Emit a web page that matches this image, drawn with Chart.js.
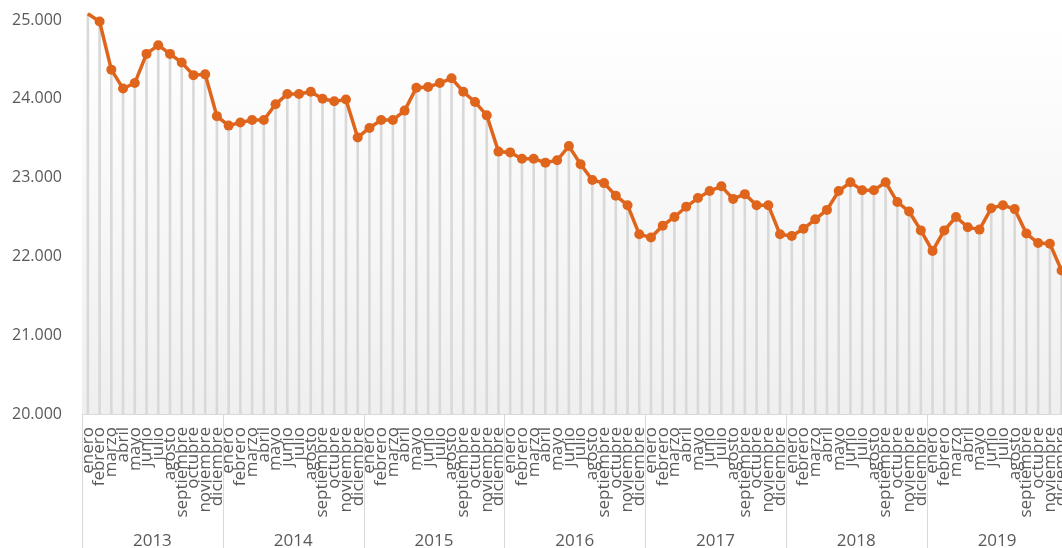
<!DOCTYPE html>
<html>
<head>
<meta charset="utf-8">
<script src="https://cdn.jsdelivr.net/npm/chart.js@4"></script>
<style>
  html, body { margin: 0; padding: 0; background: #fff; overflow: hidden; }
  #wrap { width: 1095px; height: 548px; position: relative; }
</style>
</head>
<body>
<div id="wrap"><canvas id="chart"></canvas></div>
<script>
// chart data
const years = ['2013', '2014', '2015', '2016', '2017', '2018', '2019'];
const months = ['enero', 'febrero', 'marzo', 'abril', 'mayo', 'junio', 'julio',
    'agosto', 'septiembre', 'octubre', 'noviembre', 'diciembre'];
const values2013 = [25080, 24980, 24370, 24130, 24200, 24570, 24680, 24570, 24460, 24300, 24310, 23780];
const values2014 = [23660, 23700, 23730, 23730, 23930, 24060, 24060, 24090, 24000, 23970, 23990, 23510];
const values2015 = [23630, 23730, 23730, 23850, 24140, 24150, 24200, 24260, 24090, 23960, 23790, 23330];
const values2016 = [23320, 23240, 23240, 23190, 23220, 23400, 23170, 22970, 22930, 22770, 22650, 22280];
const values2017 = [22240, 22390, 22500, 22630, 22740, 22830, 22890, 22730, 22790, 22650, 22650, 22280];
const values2018 = [22260, 22350, 22470, 22590, 22830, 22940, 22840, 22840, 22940, 22690, 22570, 22330];
const values2019 = [22070, 22330, 22500, 22370, 22340, 22610, 22650, 22600, 22290, 22170, 22160, 21820];
const yTicks = [20000, 21000, 22000, 23000, 24000, 25000];

const labels = years.flatMap(() => months);
const values = [].concat(values2013, values2014, values2015, values2016, values2017, values2018, values2019);

const textColor = '#595959';
const lineColor = '#E0651C';
const gridColor = '#d9d9d9';

function fmt(v) {
    return String(v).replace(/\B(?=(\d{3})+(?!\d))/g, '.');
}

// soft grey gradient behind the plot
const bgPlugin = {
    id: 'bg',
    beforeDraw(chart) {
        const { ctx, chartArea: a } = chart;
        const g = ctx.createLinearGradient(0, a.top, 0, a.bottom);
        g.addColorStop(0, '#ffffff');
        g.addColorStop(1, '#efefef');
        ctx.save();
        ctx.fillStyle = g;
        ctx.fillRect(a.left, a.top, a.right - a.left, a.bottom - a.top);
        ctx.restore();
    }
};

// year separators under the axis
const yearLines = {
    id: 'yearLines',
    afterDraw(chart) {
        const { ctx, chartArea: a } = chart;
        const xs = chart.scales.x;
        const step = xs.getPixelForValue(1) - xs.getPixelForValue(0);
        ctx.save();
        ctx.strokeStyle = gridColor;
        ctx.lineWidth = 1;
        for (let k = 0; k <= years.length; k++) {
            const px = Math.round(xs.getPixelForValue(k * 12) - step / 2) + 0.5;
            ctx.beginPath();
            ctx.moveTo(px, a.bottom);
            ctx.lineTo(px, chart.height);
            ctx.stroke();
        }
        ctx.restore();
    }
};

new Chart(document.getElementById('chart'), {
    data: {
        labels: labels,
        datasets: [{
            type: 'line',
            data: values,
            borderColor: lineColor,
            backgroundColor: lineColor,
            borderWidth: 3.5,
            pointRadius: 5,
            pointBorderWidth: 0,
            tension: 0,
            clip: false,
            order: 0
        }, {
            type: 'bar',
            data: values,
            base: yTicks[0],
            backgroundColor: gridColor,
            barThickness: 2,
            clip: false,
            order: 1
        }]
    },
    options: {
        responsive: true,
        maintainAspectRatio: false,
        animation: false,
        layout: { autoPadding: false, padding: { top: 20, right: 0, left: 12, bottom: 0 } },
        plugins: {
            legend: { display: false },
            tooltip: { enabled: false }
        },
        scales: {
            y: {
                min: yTicks[0],
                max: yTicks[yTicks.length - 1],
                afterBuildTicks(s) { s.ticks = yTicks.map(v => ({ value: v })); },
                grid: { display: false, drawTicks: false },
                border: { display: false },
                ticks: {
                    color: textColor,
                    font: { family: 'Open Sans', size: 16 },
                    padding: 0,
                    crossAlign: 'far',
                    callback: v => fmt(v)
                },
                afterFit(s) { s.width = 70; }
            },
            x: {
                offset: true,
                grid: { display: false, drawTicks: false },
                border: { color: gridColor, width: 1 },
                ticks: {
                    autoSkip: false,
                    maxRotation: 90,
                    minRotation: 90,
                    color: textColor,
                    font: { family: 'Open Sans', size: 17 },
                    padding: 13
                },
                afterFit(s) { s.height = 110; }
            },
            x2: {
                type: 'category',
                labels: years,
                position: 'bottom',
                offset: true,
                grid: { display: false, drawTicks: false },
                border: { display: false },
                ticks: {
                    color: textColor,
                    font: { family: 'Open Sans', size: 17 },
                    maxRotation: 0,
                    padding: 7
                },
                afterFit(s) { s.height = 24; }
            }
        }
    },
    plugins: [bgPlugin, yearLines]
});
</script>
</body>
</html>
